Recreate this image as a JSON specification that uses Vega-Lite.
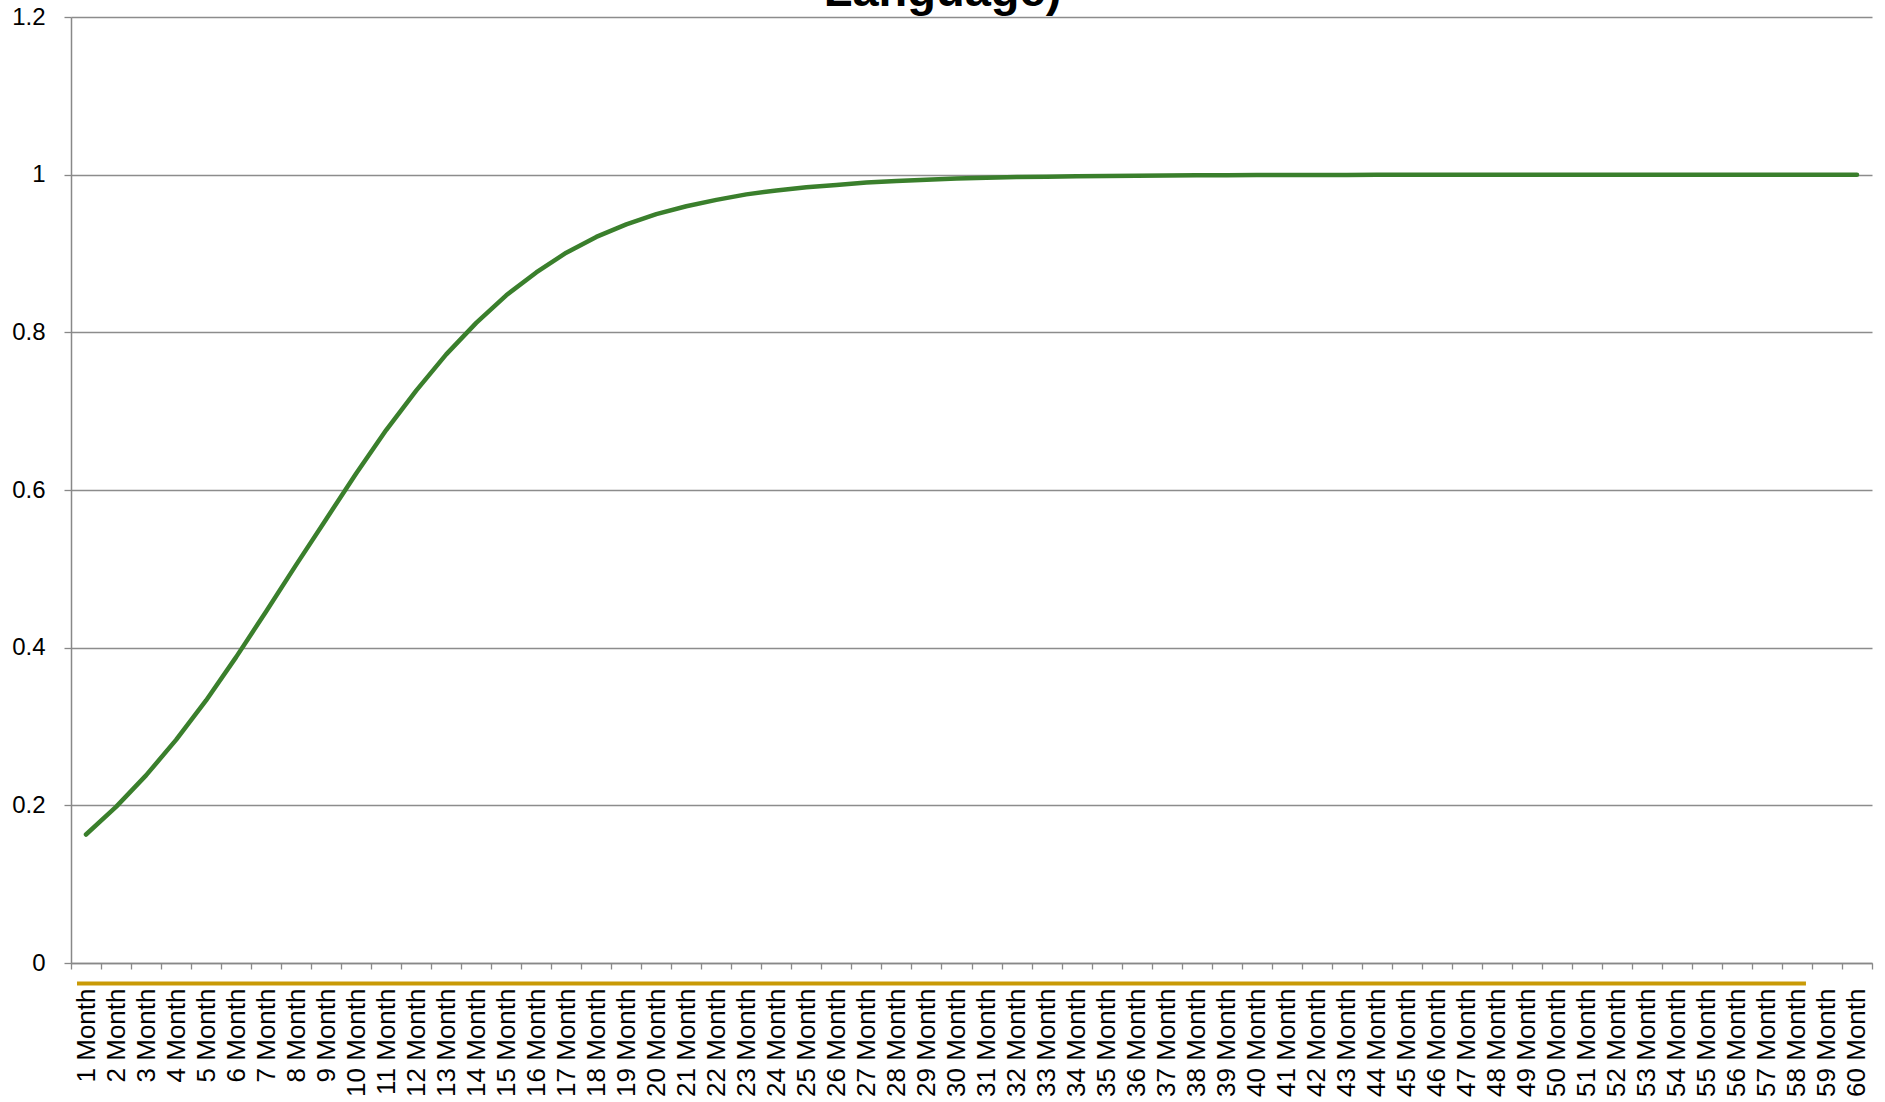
{
  "$schema": "https://vega.github.io/schema/vega-lite/v6.json",
  "autosize": "none",
  "width": 1801,
  "height": 946,
  "padding": {"left": 71, "top": 17, "right": 13, "bottom": 139},
  "background": "white",
  "config": {
    "view": {"stroke": null},
    "axis": {
      "labelFont": "Liberation Sans",
      "labelColor": "black",
      "domainColor": "#888888",
      "tickColor": "#888888",
      "gridColor": "#8c8c8c"
    }
  },
  "datasets": {
    "curve": [
      {"month": "1 Month", "value": 0.163},
      {"month": "2 Month", "value": 0.198},
      {"month": "3 Month", "value": 0.238},
      {"month": "4 Month", "value": 0.283},
      {"month": "5 Month", "value": 0.333},
      {"month": "6 Month", "value": 0.388},
      {"month": "7 Month", "value": 0.446},
      {"month": "8 Month", "value": 0.505},
      {"month": "9 Month", "value": 0.563},
      {"month": "10 Month", "value": 0.621},
      {"month": "11 Month", "value": 0.676},
      {"month": "12 Month", "value": 0.726},
      {"month": "13 Month", "value": 0.772},
      {"month": "14 Month", "value": 0.812},
      {"month": "15 Month", "value": 0.847},
      {"month": "16 Month", "value": 0.876},
      {"month": "17 Month", "value": 0.901},
      {"month": "18 Month", "value": 0.921},
      {"month": "19 Month", "value": 0.937},
      {"month": "20 Month", "value": 0.950},
      {"month": "21 Month", "value": 0.960},
      {"month": "22 Month", "value": 0.968},
      {"month": "23 Month", "value": 0.975},
      {"month": "24 Month", "value": 0.980},
      {"month": "25 Month", "value": 0.984},
      {"month": "26 Month", "value": 0.987},
      {"month": "27 Month", "value": 0.990},
      {"month": "28 Month", "value": 0.992},
      {"month": "29 Month", "value": 0.9935},
      {"month": "30 Month", "value": 0.995},
      {"month": "31 Month", "value": 0.996},
      {"month": "32 Month", "value": 0.997},
      {"month": "33 Month", "value": 0.9975},
      {"month": "34 Month", "value": 0.998},
      {"month": "35 Month", "value": 0.9984},
      {"month": "36 Month", "value": 0.9987},
      {"month": "37 Month", "value": 0.999},
      {"month": "38 Month", "value": 0.9992},
      {"month": "39 Month", "value": 0.9993},
      {"month": "40 Month", "value": 0.9995},
      {"month": "41 Month", "value": 0.9996},
      {"month": "42 Month", "value": 0.9997},
      {"month": "43 Month", "value": 0.9997},
      {"month": "44 Month", "value": 0.9998},
      {"month": "45 Month", "value": 0.9998},
      {"month": "46 Month", "value": 0.9999},
      {"month": "47 Month", "value": 0.9999},
      {"month": "48 Month", "value": 0.9999},
      {"month": "49 Month", "value": 0.9999},
      {"month": "50 Month", "value": 1.0},
      {"month": "51 Month", "value": 1.0},
      {"month": "52 Month", "value": 1.0},
      {"month": "53 Month", "value": 1.0},
      {"month": "54 Month", "value": 1.0},
      {"month": "55 Month", "value": 1.0},
      {"month": "56 Month", "value": 1.0},
      {"month": "57 Month", "value": 1.0},
      {"month": "58 Month", "value": 1.0},
      {"month": "59 Month", "value": 1.0},
      {"month": "60 Month", "value": 1.0}
    ],
    "base": [
      {"start": "1 Month", "end": "58 Month", "level": -0.026}
    ],
    "heading": [
      {"label": "Language)", "month": "30 Month", "level": 1.2}
    ]
  },
  "layer": [
    {
      "data": {"name": "curve"},
      "mark": {"type": "line", "color": "#3a7f2c", "strokeWidth": 4.5, "strokeCap": "round", "strokeJoin": "round"},
      "encoding": {
        "x": {
          "field": "month",
          "type": "nominal",
          "sort": null,
          "scale": {
            "type": "band",
            "paddingInner": 0,
            "paddingOuter": 0,
            "domain": ["1 Month","2 Month","3 Month","4 Month","5 Month","6 Month","7 Month","8 Month","9 Month","10 Month","11 Month","12 Month","13 Month","14 Month","15 Month","16 Month","17 Month","18 Month","19 Month","20 Month","21 Month","22 Month","23 Month","24 Month","25 Month","26 Month","27 Month","28 Month","29 Month","30 Month","31 Month","32 Month","33 Month","34 Month","35 Month","36 Month","37 Month","38 Month","39 Month","40 Month","41 Month","42 Month","43 Month","44 Month","45 Month","46 Month","47 Month","48 Month","49 Month","50 Month","51 Month","52 Month","53 Month","54 Month","55 Month","56 Month","57 Month","58 Month","59 Month","60 Month"]
          },
          "axis": {
            "title": null,
            "orient": "bottom",
            "labelAngle": -90,
            "labelFontSize": 26,
            "labelPadding": 19,
            "labelOverlap": false,
            "tickBand": "extent",
            "tickSize": 6,
            "tickWidth": 1.3,
            "domainWidth": 1.5,
            "grid": false
          }
        },
        "y": {
          "field": "value",
          "type": "quantitative",
          "scale": {"domain": [0, 1.2], "nice": false, "zero": true},
          "axis": {
            "title": null,
            "values": [0, 0.2, 0.4, 0.6, 0.8, 1, 1.2],
            "format": "~g",
            "labelFontSize": 24,
            "labelPadding": 19,
            "tickSize": 7,
            "tickWidth": 1.3,
            "domainWidth": 1.5,
            "grid": true,
            "gridWidth": 1.3
          }
        }
      }
    },
    {
      "data": {"name": "base"},
      "mark": {"type": "rule", "color": "#c99a06", "strokeWidth": 4, "xOffset": -9, "x2Offset": 9},
      "encoding": {
        "x": {"field": "start", "type": "nominal"},
        "x2": {"field": "end"},
        "y": {"field": "level", "type": "quantitative"}
      }
    },
    {
      "data": {"name": "heading"},
      "mark": {"type": "text", "font": "Liberation Sans", "fontSize": 47, "fontWeight": "bold", "color": "black", "align": "center", "baseline": "alphabetic", "dy": -11, "dx": -14},
      "encoding": {
        "x": {"field": "month", "type": "nominal"},
        "y": {"field": "level", "type": "quantitative"},
        "text": {"field": "label"}
      }
    }
  ]
}
